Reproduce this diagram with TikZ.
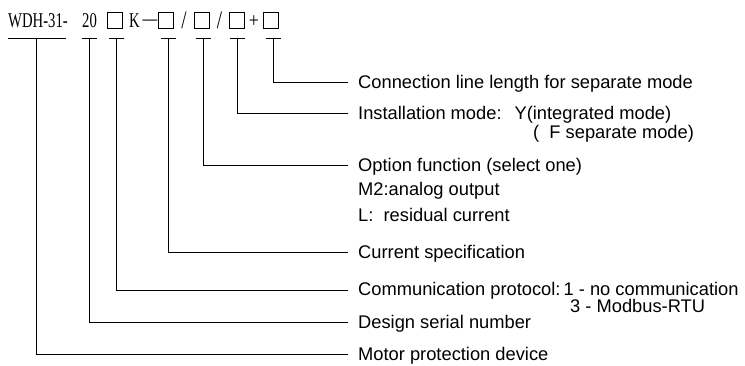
\documentclass[tikz,border=0pt]{standalone}
\usepackage{fontspec}
\setmainfont{Liberation Serif}
\newfontfamily\labfont{Liberation Sans}
\begin{document}
\begin{tikzpicture}[x=1pt,y=-1pt,
  lab/.style={anchor=base west, inner sep=0pt, font=\labfont\fontsize{18.3}{22}\selectfont},
  hd/.style={anchor=base, inner sep=0pt, font=\fontsize{21}{22}\selectfont},
  slot/.style={draw, line width=0.7pt, minimum width=15pt, minimum height=16pt, inner sep=0pt},
  lead/.style={line width=0.75pt}]
\useasboundingbox (0,0) rectangle (745,365);
% header
\node[hd, anchor=base west] (wdh) at (8,27) {\scalebox{0.7}[1]{WDH-31-}};
\node[hd] (n20) at (89.5,27) {\scalebox{0.7}[1]{20}};
\node[slot] (b1) at (115,20) {};
\node[hd] (k) at (134.5,27) {\scalebox{0.7}[1]{K}};
\node[hd] (dash) at (150,27) {\scalebox{0.7}[1]{\raisebox{2pt}{—}}};
\node[slot] (b2) at (166,20) {};
\node[hd] (s1) at (184,28) {\scalebox{0.9}[1.2]{/}};
\node[slot] (b3) at (202,20) {};
\node[hd] (s2) at (219.5,28) {\scalebox{0.9}[1.2]{/}};
\node[slot] (b4) at (237,20) {};
\node[hd] (plus) at (254,27) {\scalebox{0.85}[1]{+}};
\node[slot] (b5) at (271,20) {};
% labels
\node[lab] (l5) at (358,88.5) {Connection line length for separate mode};
\node[lab] (l4) at (358,119.5) {Installation mode:\hspace{13pt}Y(integrated mode)};
\node[lab] (l4b) at (533,138) {(\ \ F separate mode)};
\node[lab] (l3) at (358,171) {Option function (select one)};
\node[lab] (l3b) at (358,195) {M2:analog output};
\node[lab] (l3c) at (358,221) {L:\ \ residual current};
\node[lab] (l2) at (358,258) {Current specification};
\node[lab] (l1) at (358,295) {Communication protocol:\,1 - no communication};
\node[lab] (l1b) at (570,312) {3 - Modbus-RTU};
\node[lab] (l6) at (358,328) {Design serial number};
\node[lab] (l7) at (358,360) {Motor protection device};
% tick tops
\coordinate (t0) at (36,38);
\coordinate (t1) at (89.5,38);
\coordinate (t2) at (116,38);
\coordinate (t3) at (168,38);
\coordinate (t4) at (203,38);
\coordinate (t5) at (237,38);
\coordinate (t6) at (273,38);
% line ends
\coordinate (e0) at (348,354);
\coordinate (e1) at (348,322);
\coordinate (e2) at (348,290);
\coordinate (e3) at (348,252);
\coordinate (e4) at (348,165);
\coordinate (e5) at (348,113);
\coordinate (e6) at (348,82);
% bars
\draw[lead] ([xshift=-28pt]t0) -- ([xshift=30pt]t0);
\foreach \t in {t1,t2,t3,t4,t5,t6}
  \draw[lead] ([xshift=-7.5pt]\t) -- ([xshift=7.5pt]\t);
% leaders
\draw[lead] (t0) |- (e0);
\draw[lead] (t1) |- (e1);
\draw[lead] (t2) |- (e2);
\draw[lead] (t3) |- (e3);
\draw[lead] (t4) |- (e4);
\draw[lead] (t5) |- (e5);
\draw[lead] (t6) |- (e6);
\end{tikzpicture}
\end{document}
